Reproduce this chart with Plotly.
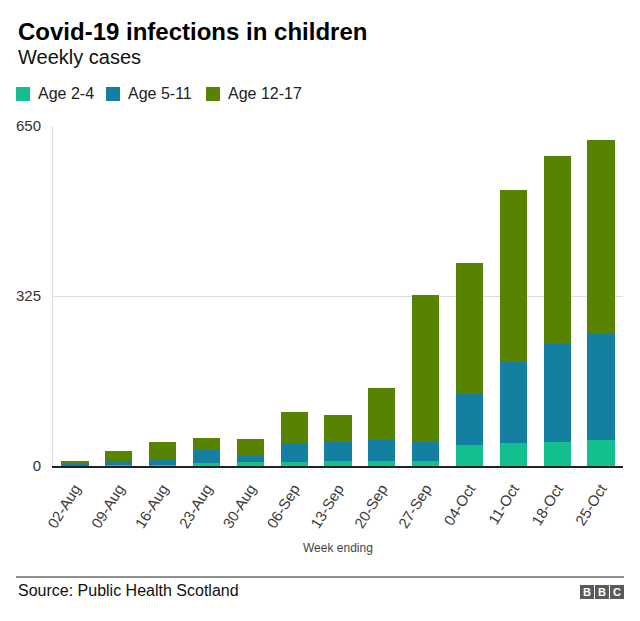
import plotly.graph_objects as go

weeks = ["02-Aug", "09-Aug", "16-Aug", "23-Aug", "30-Aug", "06-Sep", "13-Sep",
         "20-Sep", "27-Sep", "04-Oct", "11-Oct", "18-Oct", "25-Oct"]
age_2_4 = [1, 1, 2, 6, 7, 8, 10, 10, 10, 40, 44, 45, 50]
age_5_11 = [3, 8, 10, 25, 12, 34, 35, 39, 35, 98, 154, 190, 202]
age_12_17 = [5, 20, 33, 22, 33, 61, 52, 100, 281, 251, 329, 357, 371]
y_ticks = [0, 325, 650]
series = [("Age 2-4", age_2_4, "#13bf8e"),
          ("Age 5-11", age_5_11, "#1380a1"),
          ("Age 12-17", age_12_17, "#588300")]

W, H = 640, 621
L, R, T, B = 53, 17, 126, 155
PW, PH = W - L - R, H - T - B

def px(x):
    return (x - L) / PW

def py(y):
    return (H - B - y) / PH

FONT = "Liberation Sans, Arial, sans-serif"

fig = go.Figure()
for name, vals, col in series:
    fig.add_trace(go.Bar(x=weeks, y=vals, name=name, marker_color=col,
                         marker_line_width=0))

fig.update_layout(
    width=W, height=H, barmode="stack", bargap=0.38,
    margin=dict(l=L, r=R, t=T, b=B, autoexpand=False),
    plot_bgcolor="white", paper_bgcolor="white",
    font=dict(family=FONT, color="#222"),
    showlegend=False,
    xaxis=dict(tickangle=-58, tickfont=dict(size=15, color="#3a3a3a"),
               automargin=False, ticklabelstandoff=6,
               showline=True, linecolor="#222", linewidth=2, ticks=""),
    yaxis=dict(range=[0, 650], tickvals=y_ticks, showgrid=True,
               gridcolor="#dddddd", gridwidth=1, zeroline=False,
               showline=True, linecolor="#dddddd", linewidth=1,
               automargin=False, ticklabelstandoff=8,
               tickfont=dict(size=15, color="#333"), ticks="", ticklen=0),
)

anns = [
    dict(text="<b>Covid-19 infections in children</b>", x=px(16), y=py(31),
         font=dict(size=24, color="#000")),
    dict(text="Weekly cases", x=px(16), y=py(57), font=dict(size=20, color="#111")),
    dict(text="Source: Public Health Scotland", x=px(16), y=py(590),
         font=dict(size=16, color="#111")),
]
for a in anns:
    a.update(xref="paper", yref="paper", xanchor="left", yanchor="middle",
             showarrow=False)
    fig.add_annotation(**a)

fig.add_annotation(text="Week ending", xref="paper", yref="paper",
                   x=px(338), y=py(548), showarrow=False,
                   font=dict(size=12, color="#444"),
                   xanchor="center", yanchor="middle")

# legend (manual)
for (name, vals, col), sx in zip(series, [16, 106, 206]):
    fig.add_shape(type="rect", xref="paper", yref="paper",
                  x0=px(sx), x1=px(sx + 14), y0=py(87), y1=py(101),
                  fillcolor=col, line_width=0)
    fig.add_annotation(text=name, xref="paper", yref="paper",
                       x=px(sx + 20), y=py(94), showarrow=False,
                       font=dict(size=16, color="#222"),
                       xanchor="left", yanchor="middle")

for i, letter in enumerate(["B", "B", "C"]):
    x0 = 580 + i * 15
    fig.add_shape(type="rect", xref="paper", yref="paper",
                  x0=px(x0), x1=px(x0 + 14), y0=py(585), y1=py(599),
                  fillcolor="#5a5a5a", line_width=0, layer="above")
    fig.add_annotation(text="<b>%s</b>" % letter, xref="paper", yref="paper",
                       x=px(x0 + 7), y=py(592), showarrow=False,
                       font=dict(size=11, color="white"),
                       xanchor="center", yanchor="middle")

fig.add_shape(type="line", xref="paper", yref="paper", x0=px(16), x1=px(624),
              y0=py(577), y1=py(577), line=dict(color="#222", width=1))

fig.write_html("out.html")
